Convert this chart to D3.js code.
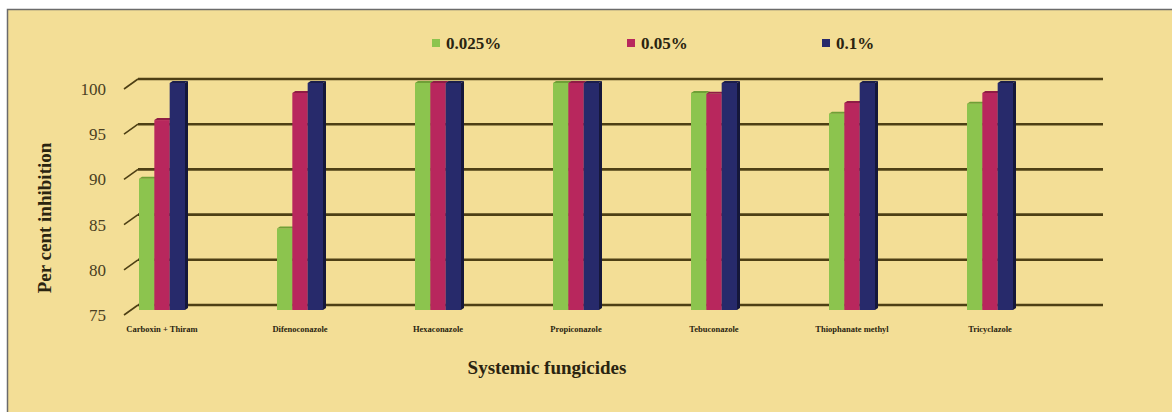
<!DOCTYPE html>
<html>
<head>
<meta charset="utf-8">
<script src="https://cdn.jsdelivr.net/npm/d3@7"></script>
<style>
  html, body { margin: 0; padding: 0; background: #ffffff; }
  svg { display: block; }
  text { font-family: "Liberation Serif", "DejaVu Serif", serif; }
</style>
</head>
<body>
<svg id="chart" width="1172" height="412"></svg>
<script>
// Fungicide treatments and per cent inhibition at three concentrations
const categories = ["Carboxin + Thiram", "Difenoconazole", "Hexaconazole", "Propiconazole",
                    "Tebuconazole", "Thiophanate methyl", "Tricyclazole"];
const seriesNames = ["0.025%", "0.05%", "0.1%"];
const conc0025 = [89.4, 83.9, 100, 100, 98.9, 96.6, 97.7];
const conc005  = [95.9, 98.9, 100, 100, 98.8, 97.8, 98.9];
const conc01   = [100, 100, 100, 100, 100, 100, 100];
const yTicks = [75, 80, 85, 90, 95, 100];

const seriesValues = [conc0025, conc005, conc01];
const colors = ["#8cc44e", "#b8275d", "#272a6b"];
const topColors = ["#6f9f36", "#8f1c45", "#1b1d4c"];
const sideColors = ["#76a83f", "#961f4b", "#15173a"];

const svg = d3.select("#chart");
const serif = "'Liberation Serif', 'DejaVu Serif', serif";

// Chart panel with its frame (top and left edges visible)
svg.append("rect").attr("x", 7.5).attr("y", 9.5).attr("width", 1180).attr("height", 420)
  .attr("fill", "#f3de96").attr("stroke", "#6b6b6b").attr("stroke-width", 1.5);

// 3D depth offset of the floor/walls
const dx = 14, dy = 10;

const y = d3.scaleLinear().domain([75, 100]).range([305, 79]);
const x = d3.scaleBand().domain(categories).range([93, 1059]);
const xs = d3.scaleBand().domain(seriesNames).range([-23, 23]);

// Gridlines on the back wall with slanted floor ticks
const grid = svg.append("g");
yTicks.forEach(t => {
  grid.append("line")
    .attr("x1", 124 + dx).attr("x2", 1103)
    .attr("y1", y(t)).attr("y2", y(t))
    .attr("stroke", "#4d3f14").attr("stroke-width", 2.6);
  grid.append("line")
    .attr("x1", 124).attr("y1", y(t) + dy)
    .attr("x2", 124 + dx).attr("y2", y(t))
    .attr("stroke", "#4d3f14").attr("stroke-width", 1.6);
});

// Y axis tick labels
const yAxis = d3.axisLeft(y).tickValues(yTicks).tickSize(0).tickPadding(0);
const yg = svg.append("g").attr("transform", `translate(106, ${dy})`).call(yAxis);
yg.select(".domain").remove();
yg.selectAll("text")
  .attr("font-size", 17).attr("fill", "#4a3f22")
  .attr("font-family", serif);

// Bars: front face, right side and top cap
const barsG = svg.append("g");
categories.forEach((c, i) => {
  seriesNames.forEach((s, k) => {
    const v = seriesValues[k][i];
    const x0 = x(c) + x.bandwidth() / 2 + xs(s);
    const w = xs.bandwidth();
    const top = y(v) + 4;
    const bottom = y(75) + 5;
    barsG.append("path")
      .attr("d", `M${x0 + w},${top} l3,-2 L${x0 + w + 3},${bottom - 2} L${x0 + w},${bottom} Z`)
      .attr("fill", sideColors[k]);
    barsG.append("rect")
      .attr("x", x0).attr("y", top).attr("width", w).attr("height", bottom - top)
      .attr("fill", colors[k]);
    barsG.append("path")
      .attr("d", `M${x0},${top} l3,-2 L${x0 + w + 3},${top - 2} L${x0 + w},${top} Z`)
      .attr("fill", topColors[k]);
  });
});

// Category labels
const xAxis = d3.axisBottom(x).tickSize(0).tickPadding(0);
const xg = svg.append("g").attr("transform", "translate(0, 326)").call(xAxis);
xg.select(".domain").remove();
xg.selectAll("text")
  .attr("font-size", 8.5).attr("font-weight", "bold").attr("fill", "#2a2410")
  .attr("font-family", serif);

// Axis titles
svg.append("text")
  .attr("transform", "translate(51, 218) rotate(-90)")
  .attr("text-anchor", "middle").attr("font-family", serif)
  .attr("font-size", 19).attr("font-weight", "bold").attr("fill", "#2a2410")
  .text("Per cent inhibition");

svg.append("text")
  .attr("x", 547).attr("y", 374)
  .attr("text-anchor", "middle").attr("font-family", serif)
  .attr("font-size", 19).attr("font-weight", "bold").attr("fill", "#2a2410")
  .text("Systemic fungicides");

// Legend
const legendX = [432, 627, 822];
const legend = svg.append("g");
seriesNames.forEach((s, k) => {
  legend.append("rect")
    .attr("x", legendX[k]).attr("y", 39).attr("width", 8).attr("height", 8)
    .attr("fill", colors[k]);
  legend.append("text")
    .attr("x", legendX[k] + 14).attr("y", 49).attr("font-family", serif)
    .attr("font-size", 17).attr("font-weight", "bold").attr("fill", "#2a2410")
    .text(s);
});
</script>
</body>
</html>
